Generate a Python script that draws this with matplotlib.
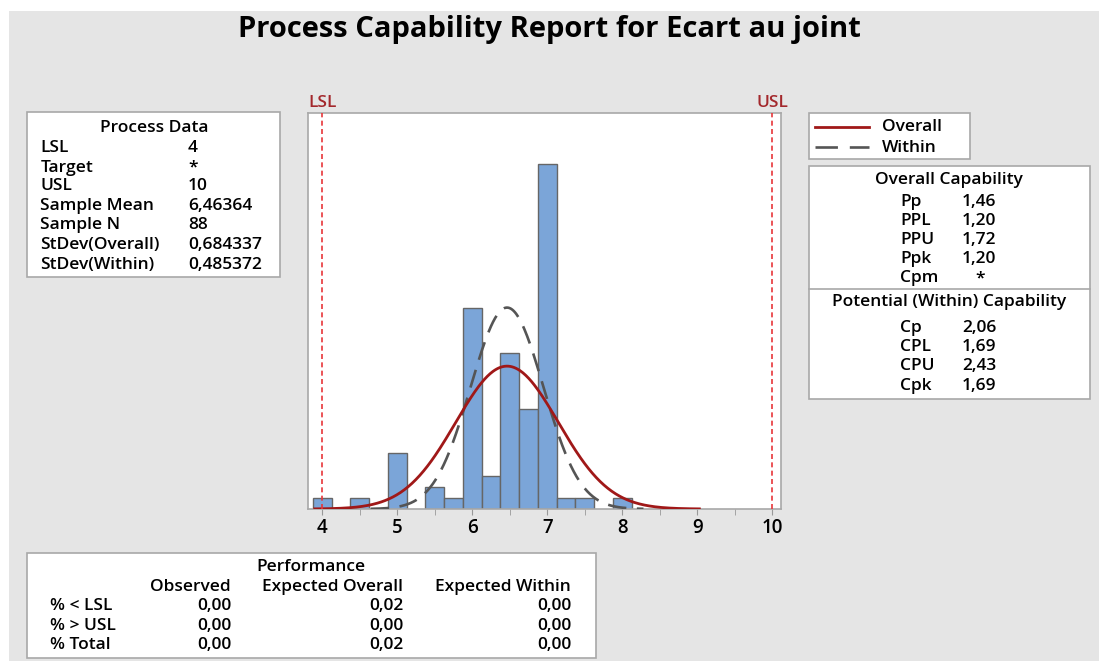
import numpy as np
import matplotlib
matplotlib.use("Agg")
import matplotlib.pyplot as plt
from matplotlib.patches import Rectangle
from matplotlib.lines import Line2D
from matplotlib.ticker import MultipleLocator

# ---------------- data ----------------
bin_centers = [4.0, 4.5, 5.0, 5.5, 5.75, 6.0, 6.25, 6.5, 6.75, 7.0, 7.25, 7.5, 8.0]
counts = [1, 1, 5, 2, 1, 18, 3, 14, 9, 31, 1, 1, 1]
bin_width = 0.25
lsl, usl = 4, 10
mean = 6.46364
sd_overall = 0.684337
sd_within = 0.485372
n_total = 88
xticks = [4, 5, 6, 7, 8, 9, 10]

title = "Process Capability Report for Ecart au joint"
process_labels = ["LSL", "Target", "USL", "Sample Mean", "Sample N",
                  "StDev(Overall)", "StDev(Within)"]
process_values = ["4", "*", "10", "6,46364", "88", "0,684337", "0,485372"]
overall_labels = ["Pp", "PPL", "PPU", "Ppk", "Cpm"]
overall_values = ["1,46", "1,20", "1,72", "1,20", "*"]
within_labels = ["Cp", "CPL", "CPU", "Cpk"]
within_values = ["2,06", "1,69", "2,43", "1,69"]
perf_columns = ["Observed", "Expected Overall", "Expected Within"]
perf_rows = ["% < LSL", "% > USL", "% Total"]
perf_observed = ["0,00", "0,00", "0,00"]
perf_exp_overall = ["0,02", "0,00", "0,02"]
perf_exp_within = ["0,00", "0,00", "0,00"]

# ---------------- style ----------------
W, H = 1099, 661
BG = "#e5e5e5"
BAR = "#7ba5d8"
BAR_EDGE = "#666666"
RED = "#a01818"
LIM_RED = "#e8363a"
LBL_RED = "#a3282c"
BOX_EDGE = "#a8a8a8"
WITHIN_C = "#555555"
WITHIN_LS = (0, (7, 4))
FONT = ["Open Sans", "DejaVu Sans"]
FS = 12.5
DY = 1.5

fig = plt.figure(figsize=(W / 100, H / 100), dpi=100, facecolor="white")


def fx(x):
    return x / W


def fy(y):
    return 1 - y / H


def txt(x, y, s, ha="left", size=FS, color="black", weight="semibold"):
    fig.text(fx(x), fy(y + DY), s, ha=ha, va="center", fontsize=size, color=color,
             family=FONT, weight=weight)


def box(x0, y0, x1, y1, face="white", edge=BOX_EDGE, z=0, lw=1.2):
    fig.patches.append(Rectangle((fx(x0), fy(y1)), fx(x1) - fx(x0), (y1 - y0) / H,
                                 transform=fig.transFigure, facecolor=face,
                                 edgecolor=edge, linewidth=lw, zorder=z))


# gray backdrop (white margin on the top and left edges)
box(9, 10.5, W + 2, H + 2, face=BG, edge="none", z=-5, lw=0)

# ---------------- title ----------------
fig.text(0.5, fy(29.5), title, ha="center", va="center", fontsize=21,
         weight="bold", family=FONT)

# ---------------- histogram ----------------
ax = fig.add_axes([fx(308), fy(509), fx(781) - fx(308), (509 - 113) / H])
ax.set_facecolor("white")
ax.bar(bin_centers, counts, width=bin_width, color=BAR, edgecolor=BAR_EDGE,
       linewidth=1.0, zorder=2)

xo = np.linspace(mean - 3.75 * sd_overall, mean + 3.75 * sd_overall, 400)
yo = n_total * bin_width * np.exp(-0.5 * ((xo - mean) / sd_overall) ** 2) / (sd_overall * np.sqrt(2 * np.pi))
xw = np.linspace(mean - 3.75 * sd_within, mean + 3.75 * sd_within, 400)
yw = n_total * bin_width * np.exp(-0.5 * ((xw - mean) / sd_within) ** 2) / (sd_within * np.sqrt(2 * np.pi))
ax.plot(xw, yw, color=WITHIN_C, lw=1.9, ls=WITHIN_LS, zorder=3)
ax.plot(xo, yo, color=RED, lw=2.0, zorder=4)

for v in (lsl, usl):
    ax.axvline(v, color=LIM_RED, lw=1.2, ls=(0, (3, 2)), zorder=5)

ax.set_xlim(3.808, 10.119)
ax.set_ylim(0, 35.55)
ax.set_yticks([])
ax.set_xticks(xticks)
ax.set_xticklabels([str(t) for t in xticks], family=FONT, fontsize=13.5,
                   weight="semibold")
ax.xaxis.set_minor_locator(MultipleLocator(0.5))
ax.tick_params(axis="x", which="both", direction="out", length=4, color="#999999",
               pad=2.5)
for s in ax.spines.values():
    s.set_color(BOX_EDGE)
    s.set_linewidth(1.2)

ax.text(lsl, 1.006, "LSL", transform=ax.get_xaxis_transform(), ha="center",
        va="bottom", color=LBL_RED, fontsize=12.5, weight="semibold", family=FONT)
ax.text(usl, 1.006, "USL", transform=ax.get_xaxis_transform(), ha="center",
        va="bottom", color=LBL_RED, fontsize=12.5, weight="semibold", family=FONT)

# ---------------- process data ----------------
box(27, 112, 280, 277)
txt(154, 126, "Process Data", ha="center")
pd_y = [146.5, 166, 185, 204.3, 223.5, 243.3, 263.3]
for lab, val, yy in zip(process_labels, process_values, pd_y):
    txt(40.5, yy, lab)
    txt(188, yy, val)

# ---------------- legend ----------------
box(809, 113, 970, 159)
fig.lines.append(Line2D([fx(815), fx(869)], [fy(126.5), fy(126.5)],
                        transform=fig.transFigure, color=RED, lw=2.0))
fig.lines.append(Line2D([fx(815), fx(869)], [fy(147), fy(147)],
                        transform=fig.transFigure, color=WITHIN_C, lw=1.9,
                        ls=(0, (8.5, 4.5))))
txt(882, 125.5, "Overall")
txt(882, 146.3, "Within")

# ---------------- capability ----------------
box(809, 166, 1090, 399)
fig.lines.append(Line2D([fx(809), fx(1090)], [fy(288.5), fy(288.5)],
                        transform=fig.transFigure, color=BOX_EDGE, lw=1.2))
txt(949, 179, "Overall Capability", ha="center")
oc_y = [200, 219.3, 238.3, 257.7, 276.7]
for lab, val, yy in zip(overall_labels, overall_values, oc_y):
    txt(900, yy, lab)
    if val == "*":
        txt(980.5, yy, val, ha="center")
    else:
        txt(962, yy, val)
txt(949, 301, "Potential (Within) Capability", ha="center")
wc_y = [326.7, 345.7, 365, 384.3]
for lab, val, yy in zip(within_labels, within_values, wc_y):
    txt(900, yy, lab)
    txt(962, yy, val)

# ---------------- performance ----------------
box(27, 553, 596, 658)
txt(311, 565.5, "Performance", ha="center")
col_x = [231, 403, 571]
for c, xx in zip(perf_columns, col_x):
    txt(xx, 585.5, c, ha="right")
row_y = [605, 624.3, 643.5]
for r, a, b, c, yy in zip(perf_rows, perf_observed, perf_exp_overall,
                          perf_exp_within, row_y):
    txt(50, yy, r)
    txt(col_x[0], yy, a, ha="right")
    txt(col_x[1], yy, b, ha="right")
    txt(col_x[2], yy, c, ha="right")

fig.savefig("out.png", dpi=100, facecolor="white")
